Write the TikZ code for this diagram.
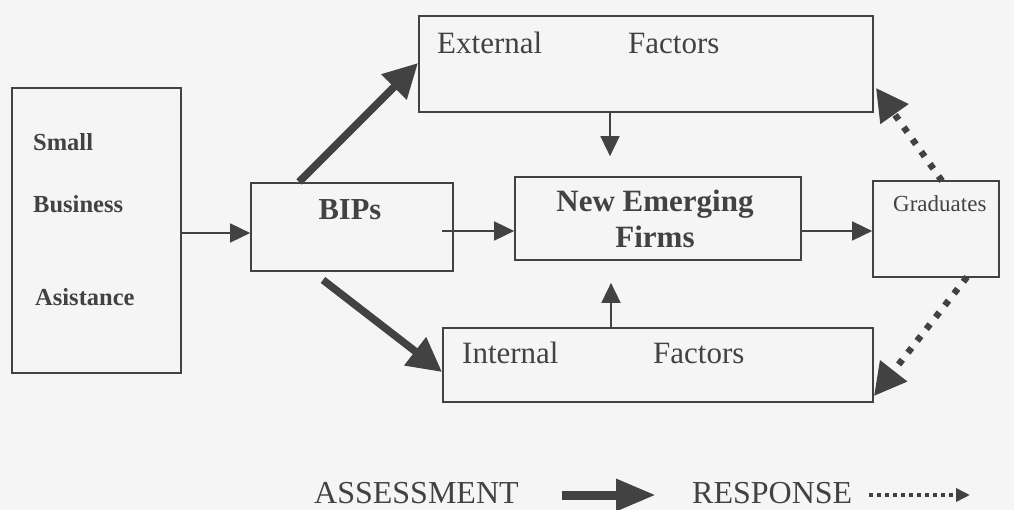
\documentclass[tikz,border=0pt]{standalone}
\usepackage{fontspec}
\setmainfont{Liberation Serif}
\usetikzlibrary{arrows.meta}
\definecolor{ink}{HTML}{424242}
\definecolor{paper}{HTML}{F5F5F5}
\tikzset{
  box/.style={draw=ink, line width=1.7pt, inner sep=0pt, minimum width=#1},
  lbl/.style={anchor=base west, inner sep=0pt, text=ink},
  clbl/.style={anchor=base, inner sep=0pt, text=ink},
  thin arrow/.style={draw=ink, line width=1.7pt, -{Triangle[length=20pt,width=19pt]}},
  thick arrow/.style={draw=ink, line width=7.5pt, -{Triangle[length=34pt,width=34pt]}},
  dot arrow/.style={draw=ink, line width=6.5pt, dash pattern=on 6pt off 9pt, -{Triangle[length=32pt,width=33pt]}},
}
\begin{document}
\begin{tikzpicture}[x=1pt,y=-1pt]
\fill[paper] (0,0) rectangle (1014,510);
\useasboundingbox (0,0) rectangle (1014,510);

% boxes
\node[box=169pt, minimum height=285pt] (SB) at (96.5,230.5) {};
\node[box=202pt, minimum height=88pt] (BIPs) at (352,227) {};
\node[box=454pt, minimum height=96pt] (Ext) at (646,64) {};
\node[box=286pt, minimum height=83pt] (NEF) at (658,218.5) {};
\node[box=126pt, minimum height=96pt] (Grad) at (936,229) {};
\node[box=430pt, minimum height=74pt] (Int) at (658,365) {};

% texts
\node[lbl, font=\bfseries\fontsize{24.5}{28}\selectfont] (t1) at (33,151) {Small};
\node[lbl, font=\bfseries\fontsize{24.5}{28}\selectfont] (t2) at (33,213) {Business};
\node[lbl, font=\bfseries\fontsize{24.5}{28}\selectfont] (t3) at (35,306) {Asistance};
\node[clbl, font=\bfseries\fontsize{30.5}{34}\selectfont] (t4) at (350,220) {BIPs};
\node[lbl, font=\fontsize{31}{34}\selectfont] (t5) at (437,54) {External};
\node[lbl, font=\fontsize{31}{34}\selectfont] (t6) at (628,54) {Factors};
\node[clbl, font=\bfseries\fontsize{31}{34}\selectfont] (t7) at (655,212) {New Emerging};
\node[clbl, font=\bfseries\fontsize{31}{34}\selectfont] (t8) at (655,248) {Firms};
\node[lbl, font=\fontsize{23}{26}\selectfont] (t9) at (893,212) {Graduates};
\node[lbl, font=\fontsize{31}{34}\selectfont] (t10) at (462,363) {Internal};
\node[lbl, font=\fontsize{31}{34}\selectfont] (t11) at (653,363) {Factors};
\node[lbl, font=\fontsize{32}{35}\selectfont] (la) at (314,503) {ASSESSMENT};
\node[lbl, font=\fontsize{32}{35}\selectfont] (lr) at (692,503) {RESPONSE};

% helper coordinates
\coordinate (mid) at (442,231);
\coordinate (xd) at (610,0);
\coordinate (xu) at (611,0);
\coordinate (s1) at (299,182);
\coordinate (e1) at (418,63);
\coordinate (s2) at (323,280);
\coordinate (e2) at (442,372);
\coordinate (g1) at (942,181);
\coordinate (g2) at (967,277);
\coordinate (d1) at (876,88);
\coordinate (d2) at (874,396);
\coordinate (a1) at (562,495);
\coordinate (a2) at (656,495);
\coordinate (r1) at (869,495);
\coordinate (r2) at (970,495);

% thin arrows
\draw[thin arrow] (SB.east |- 0,233) -- (BIPs.west |- 0,233);
\draw[thin arrow] (mid) -- (mid -| NEF.west);
\draw[thin arrow] (NEF.east |- mid) -- (Grad.west |- mid);
\draw[thin arrow] (Ext.south -| xd) -- ([yshift=20pt]NEF.north -| xd);
\draw[thin arrow] (Int.north -| xu) -- ([yshift=-22pt]NEF.south -| xu);

% thick arrows
\draw[thick arrow] (s1) -- (e1);
\draw[thick arrow] (s2) -- (e2);

% dotted arrows
\draw[dot arrow] (g1) -- (d1);
\draw[dot arrow] (g2) -- (d2);

% legend arrows
\draw[draw=ink, line width=9pt, -{Triangle[length=40pt,width=30pt]}] (a1) -- (a2);
\draw[draw=ink, line width=4pt, dash pattern=on 4pt off 4pt, -{Triangle[length=14pt,width=13pt]}] (r1) -- (r2);
\end{tikzpicture}
\end{document}
